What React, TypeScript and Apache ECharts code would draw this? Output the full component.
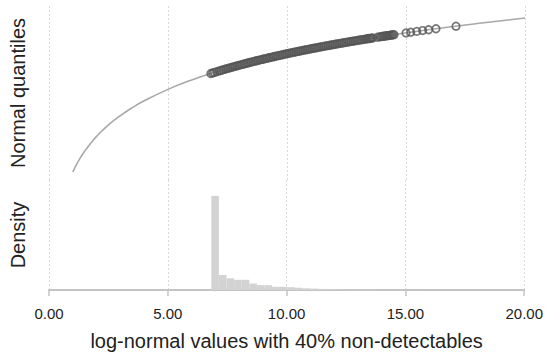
import React, { useEffect, useRef } from "react";
import * as echarts from "echarts";

const xTicks = [0, 5, 10, 15, 20];

// theoretical curve (value, normal quantile)
const curveX = [1.0, 1.1, 1.2, 1.35, 1.5, 1.75, 2.0, 2.5, 3.0, 3.5, 4.0, 5.0, 6.0, 7.0, 8.0, 9.0, 10.0, 12.0, 14.0, 16.0, 18.0, 20.0];
const curveQ = [-7.57, -7.21, -6.88, -6.44, -6.04, -5.47, -4.96, -4.12, -3.44, -2.86, -2.36, -1.52, -0.83, -0.25, 0.25, 0.69, 1.09, 1.77, 2.35, 2.86, 3.30, 3.70];

// detected observations (value, normal quantile)
const pointX = [
  6.8, 6.875, 6.95, 7.05, 7.15, 7.225, 7.3, 7.375, 7.45, 7.525, 7.6, 7.675, 7.75, 7.825, 7.9, 7.975,
  8.05, 8.125, 8.2, 8.275, 8.35, 8.425, 8.5, 8.575, 8.65, 8.725, 8.8, 8.875, 8.95, 9.025,
  9.1, 9.175, 9.25, 9.325, 9.4, 9.475, 9.55, 9.625, 9.7, 9.775, 9.85, 9.925,
  10.0, 10.075, 10.15, 10.225, 10.3, 10.375, 10.45, 10.525, 10.6, 10.675, 10.75, 10.825, 10.9, 10.975,
  11.05, 11.125, 11.2, 11.275, 11.35, 11.425, 11.5, 11.575, 11.65, 11.725, 11.8, 11.875, 11.95,
  12.025, 12.1, 12.175, 12.25, 12.325, 12.4, 12.475, 12.55, 12.625, 12.7, 12.775, 12.85, 12.925,
  13.0, 13.075, 13.15, 13.225, 13.3, 13.35, 13.4, 13.45, 13.5, 13.55, 13.6,
  13.8, 13.9, 13.95, 14.0, 14.05, 14.1, 14.15, 14.2, 14.25, 14.3, 14.35, 14.4, 14.45, 14.5,
  15.0, 15.2, 15.45, 15.7, 15.95, 16.26, 17.1,
];
const pointQ = [
  -0.36, -0.32, -0.279, -0.226, -0.173, -0.134, -0.094, -0.056, -0.018, 0.02, 0.057, 0.094, 0.13, 0.167, 0.203, 0.238,
  0.273, 0.308, 0.343, 0.377, 0.411, 0.445, 0.478, 0.511, 0.544, 0.577, 0.609, 0.641, 0.672, 0.703,
  0.734, 0.765, 0.796, 0.826, 0.856, 0.886, 0.916, 0.945, 0.974, 1.003, 1.032, 1.061,
  1.089, 1.117, 1.145, 1.173, 1.2, 1.227, 1.254, 1.281, 1.308, 1.335, 1.361, 1.387, 1.413, 1.439,
  1.464, 1.49, 1.515, 1.54, 1.565, 1.59, 1.614, 1.639, 1.663, 1.687, 1.711, 1.735, 1.758,
  1.782, 1.805, 1.829, 1.852, 1.875, 1.897, 1.92, 1.943, 1.965, 1.987, 2.009, 2.031, 2.053,
  2.075, 2.097, 2.118, 2.14, 2.161, 2.175, 2.189, 2.203, 2.217, 2.231, 2.245,
  2.3, 2.327, 2.341, 2.354, 2.368, 2.381, 2.394, 2.407, 2.421, 2.434, 2.447, 2.46, 2.473, 2.486,
  2.614, 2.664, 2.725, 2.786, 2.845, 2.917, 3.107,
];

// histogram
const binEdges = [6.83, 7.15, 7.47, 7.79, 8.11, 8.43, 8.75, 9.07, 9.39, 9.71, 10.03, 10.35, 10.67, 10.99, 11.31, 11.63, 11.95, 12.27, 12.59, 12.91, 13.23, 13.55, 13.87, 14.19, 14.51, 14.83, 15.15, 15.47, 15.79, 16.11, 16.43, 16.75, 17.07, 17.39];
const binDensity = [1.66, 0.264, 0.207, 0.18, 0.18, 0.113, 0.085, 0.085, 0.056, 0.056, 0.05, 0.04, 0.03, 0.025, 0.02, 0.015, 0.012, 0.009, 0.007, 0.005, 0.004, 0.003, 0.002, 0.002, 0.0015, 0.001, 0.001, 0.001, 0.0008, 0.0005, 0.0005, 0.0004, 0.0004];

const FONT = "Liberation Sans, Arial, Helvetica, sans-serif";

export default function App() {
  const ref = useRef<HTMLDivElement>(null);
  useEffect(() => {
    if (!ref.current) return;
    const chart = echarts.init(ref.current, null, { renderer: "svg" });
    const splitLine = { show: true, lineStyle: { color: "#d9d9d9", type: [2, 2], width: 1 } };
    const histData = binDensity.map((d, i) => [binEdges[i], binEdges[i + 1], d]);
    chart.setOption({
      animation: false,
      backgroundColor: "#ffffff",
      grid: [
        { left: 49, right: 21, top: 6, height: 174 },
        { left: 49, right: 21, top: 180, bottom: 56.5 },
      ],
      xAxis: [
        {
          gridIndex: 0, type: "value", min: xTicks[0], max: xTicks[xTicks.length - 1], interval: 5,
          axisLine: { show: false }, axisTick: { show: false }, axisLabel: { show: false },
          splitLine,
        },
        {
          gridIndex: 1, type: "value", min: xTicks[0], max: xTicks[xTicks.length - 1], interval: 5,
          axisLine: { show: true, lineStyle: { color: "#c4c4c4", width: 2 } },
          axisTick: { show: true, length: 6, lineStyle: { color: "#c4c4c4", width: 1.5 } },
          axisLabel: { show: true, formatter: (v: number) => v.toFixed(2), fontFamily: FONT, fontSize: 15, color: "#222", margin: 16 },
          splitLine,
          name: "log-normal values with 40% non-detectables",
          nameLocation: "middle", nameGap: 41,
          nameTextStyle: { fontFamily: FONT, fontSize: 20, color: "#222" },
        },
      ],
      yAxis: [
        {
          gridIndex: 0, type: "value", min: -8.156, max: 4.583,
          axisLine: { show: false }, axisTick: { show: false }, axisLabel: { show: false }, splitLine: { show: false },
          name: "Normal quantiles", nameLocation: "middle", nameGap: 21, nameRotate: 90,
          nameTextStyle: { fontFamily: FONT, fontSize: 20, color: "#222" },
        },
        {
          gridIndex: 1, type: "value", min: 0, max: 1.94,
          axisLine: { show: false }, axisTick: { show: false }, axisLabel: { show: false }, splitLine: { show: false },
          name: "Density", nameLocation: "middle", nameGap: 21, nameRotate: 90,
          nameTextStyle: { fontFamily: FONT, fontSize: 20, color: "#222" },
        },
      ],
      series: [
        {
          type: "custom", xAxisIndex: 1, yAxisIndex: 1,
          data: histData,
          encode: { x: [0, 1], y: 2 },
          renderItem: (params: any, api: any) => {
            const p0 = api.coord([api.value(0), 0]);
            const p1 = api.coord([api.value(1), api.value(2)]);
            return {
              type: "rect",
              shape: { x: p0[0], y: p1[1], width: p1[0] - p0[0], height: p0[1] - p1[1] },
              style: { fill: "#d3d3d3", stroke: null },
            };
          },
          z: 1,
        },
        {
          type: "line", xAxisIndex: 0, yAxisIndex: 0,
          data: curveX.map((x, i) => [x, curveQ[i]]),
          smooth: true, showSymbol: false, symbol: "none",
          lineStyle: { color: "#a8a8a8", width: 1.6 },
          z: 2,
        },
        {
          type: "scatter", xAxisIndex: 0, yAxisIndex: 0,
          data: pointX.map((x, i) => [x, pointQ[i]]),
          symbol: "circle", symbolSize: 7.5,
          itemStyle: { color: "rgba(0,0,0,0)", borderColor: "#555555", borderWidth: 1.7 },
          z: 3,
        },
      ],
    });
    return () => chart.dispose();
  }, []);
  return <div ref={ref} style={{ width: 546, height: 352, position: "absolute", left: 0, top: 0 }} />;
}
